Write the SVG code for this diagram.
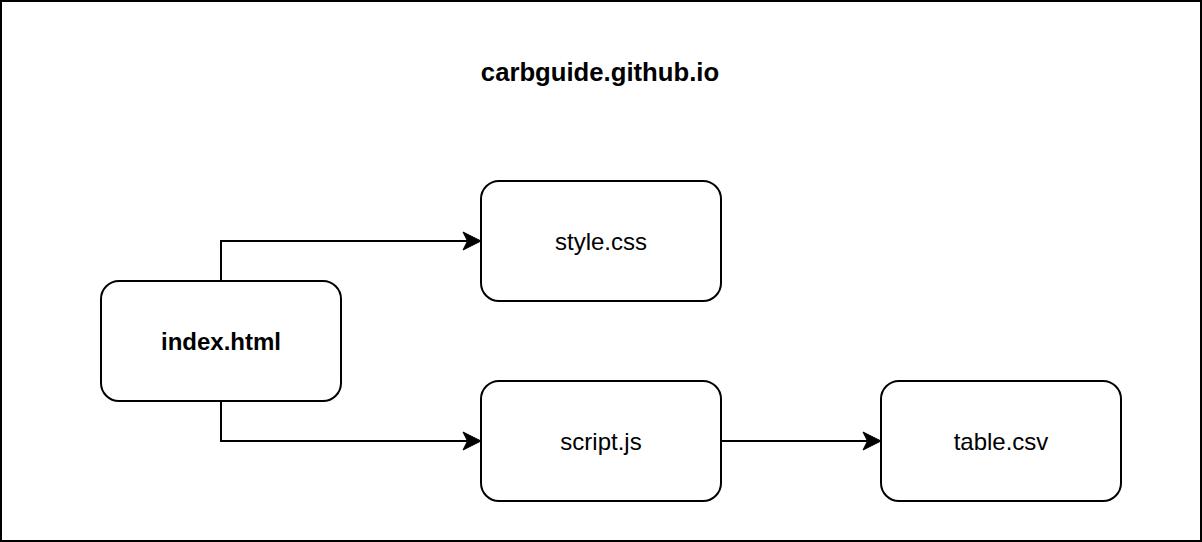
<svg xmlns="http://www.w3.org/2000/svg" width="1202" height="542" viewBox="0 0 1202 542">
<style>
.box{fill:#fff;stroke:#000;stroke-width:2}
.t{font-family:"Liberation Sans",Arial,sans-serif;font-size:24px;fill:#000;text-anchor:middle}
.b{font-weight:bold}
.c{fill:none;stroke:#000;stroke-width:2}
.ah{fill:#000;stroke:#000;stroke-width:1}
</style>
<rect x="1" y="1" width="1200" height="540" fill="#fff" stroke="#000" stroke-width="2"/>
<g id="title"><text class="t b" x="600" y="80.5" style="font-size:25.7px">carbguide.github.io</text></g>
<g id="connectors">
<path class="c" d="M221,281 V241 H472"/>
<path class="ah" d="M481,241 L463,232 L467.5,241 L463,250 Z"/>
<path class="c" d="M221,401 V441 H472"/>
<path class="ah" d="M481,441 L463,432 L467.5,441 L463,450 Z"/>
<path class="c" d="M721,441 H872"/>
<path class="ah" d="M881,441 L863,432 L867.5,441 L863,450 Z"/>
</g>
<g id="index"><rect class="box" x="101" y="281" width="240" height="120" rx="18"/><text class="t b" x="221" y="349.5">index.html</text></g>
<g id="style"><rect class="box" x="481" y="181" width="240" height="120" rx="18"/><text class="t" x="601" y="249.5">style.css</text></g>
<g id="script"><rect class="box" x="481" y="381" width="240" height="120" rx="18"/><text class="t" x="601" y="449.5">script.js</text></g>
<g id="table"><rect class="box" x="881" y="381" width="240" height="120" rx="18"/><text class="t" x="1001" y="449.5">table.csv</text></g>
</svg>
